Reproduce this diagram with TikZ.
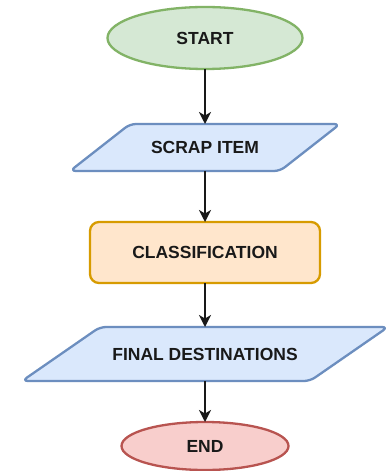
\documentclass[tikz,border=0pt]{standalone}
\usepackage{fontspec}
\setmainfont{Liberation Sans}
\usetikzlibrary{shapes.geometric,arrows.meta}
\pgfdeclarelayer{bg}
\pgfsetlayers{bg,main}
\definecolor{gfill}{HTML}{D5E8D4}\definecolor{gdraw}{HTML}{82B366}
\definecolor{bfill}{HTML}{DAE8FC}\definecolor{bdraw}{HTML}{6C8EBF}
\definecolor{ofill}{HTML}{FFE6CC}\definecolor{odraw}{HTML}{D79B00}
\definecolor{rfill}{HTML}{F8CECC}\definecolor{rdraw}{HTML}{B85450}
\tikzset{
  lbl/.style={font=\bfseries\fontsize{17.5bp}{21bp}\selectfont, text=black!90, inner sep=0pt, outer sep=0pt},
  shapeline/.style={line width=2.3bp},
  greenell/.style={lbl, ellipse, shapeline, draw=gdraw, fill=gfill},
  redell/.style={lbl, ellipse, shapeline, draw=rdraw, fill=rfill},
  orangebox/.style={lbl, rectangle, rounded corners=9bp, shapeline, draw=odraw, fill=ofill},
  bluepar/.style={shapeline, draw=bdraw, fill=bfill, rounded corners=6bp, line join=round},
  flow/.style={line width=1.5bp, draw=black!90, -{Stealth[length=12bp,width=12bp,inset=3.5bp]}}
}
\begin{document}
\begin{tikzpicture}[x=1bp,y=-1bp]
\useasboundingbox (0,0) rectangle (390,471);
\node[greenell, minimum width=195bp, minimum height=62bp] (start) at (205,38) {START};
\node[lbl, rectangle, minimum width=210bp, minimum height=47bp] (scrap) at (205,147.5) {SCRAP ITEM};
\node[orangebox, minimum width=230bp, minimum height=61bp] (class) at (205,252.5) {CLASSIFICATION};
\node[lbl, rectangle, minimum width=288bp, minimum height=54bp] (final) at (205,354) {FINAL DESTINATIONS};
\node[redell, minimum width=167bp, minimum height=48bp] (end) at (205,446) {END};
\begin{pgfonlayer}{bg}
\fill[white] (0,0) rectangle (390,471);
\draw[bluepar] ([xshift=30bp]scrap.north west) -- ([xshift=30bp]scrap.north east) -- ([xshift=-30bp]scrap.south east) -- ([xshift=-30bp]scrap.south west) -- cycle;
\draw[bluepar] ([xshift=39bp]final.north west) -- ([xshift=39bp]final.north east) -- ([xshift=-39bp]final.south east) -- ([xshift=-39bp]final.south west) -- cycle;
\end{pgfonlayer}
\draw[flow] (start.south) -- (scrap.north);
\draw[flow] (scrap.south) -- (class.north);
\draw[flow] (class.south) -- (final.north);
\draw[flow] (final.south) -- (end.north);
\end{tikzpicture}
\end{document}
